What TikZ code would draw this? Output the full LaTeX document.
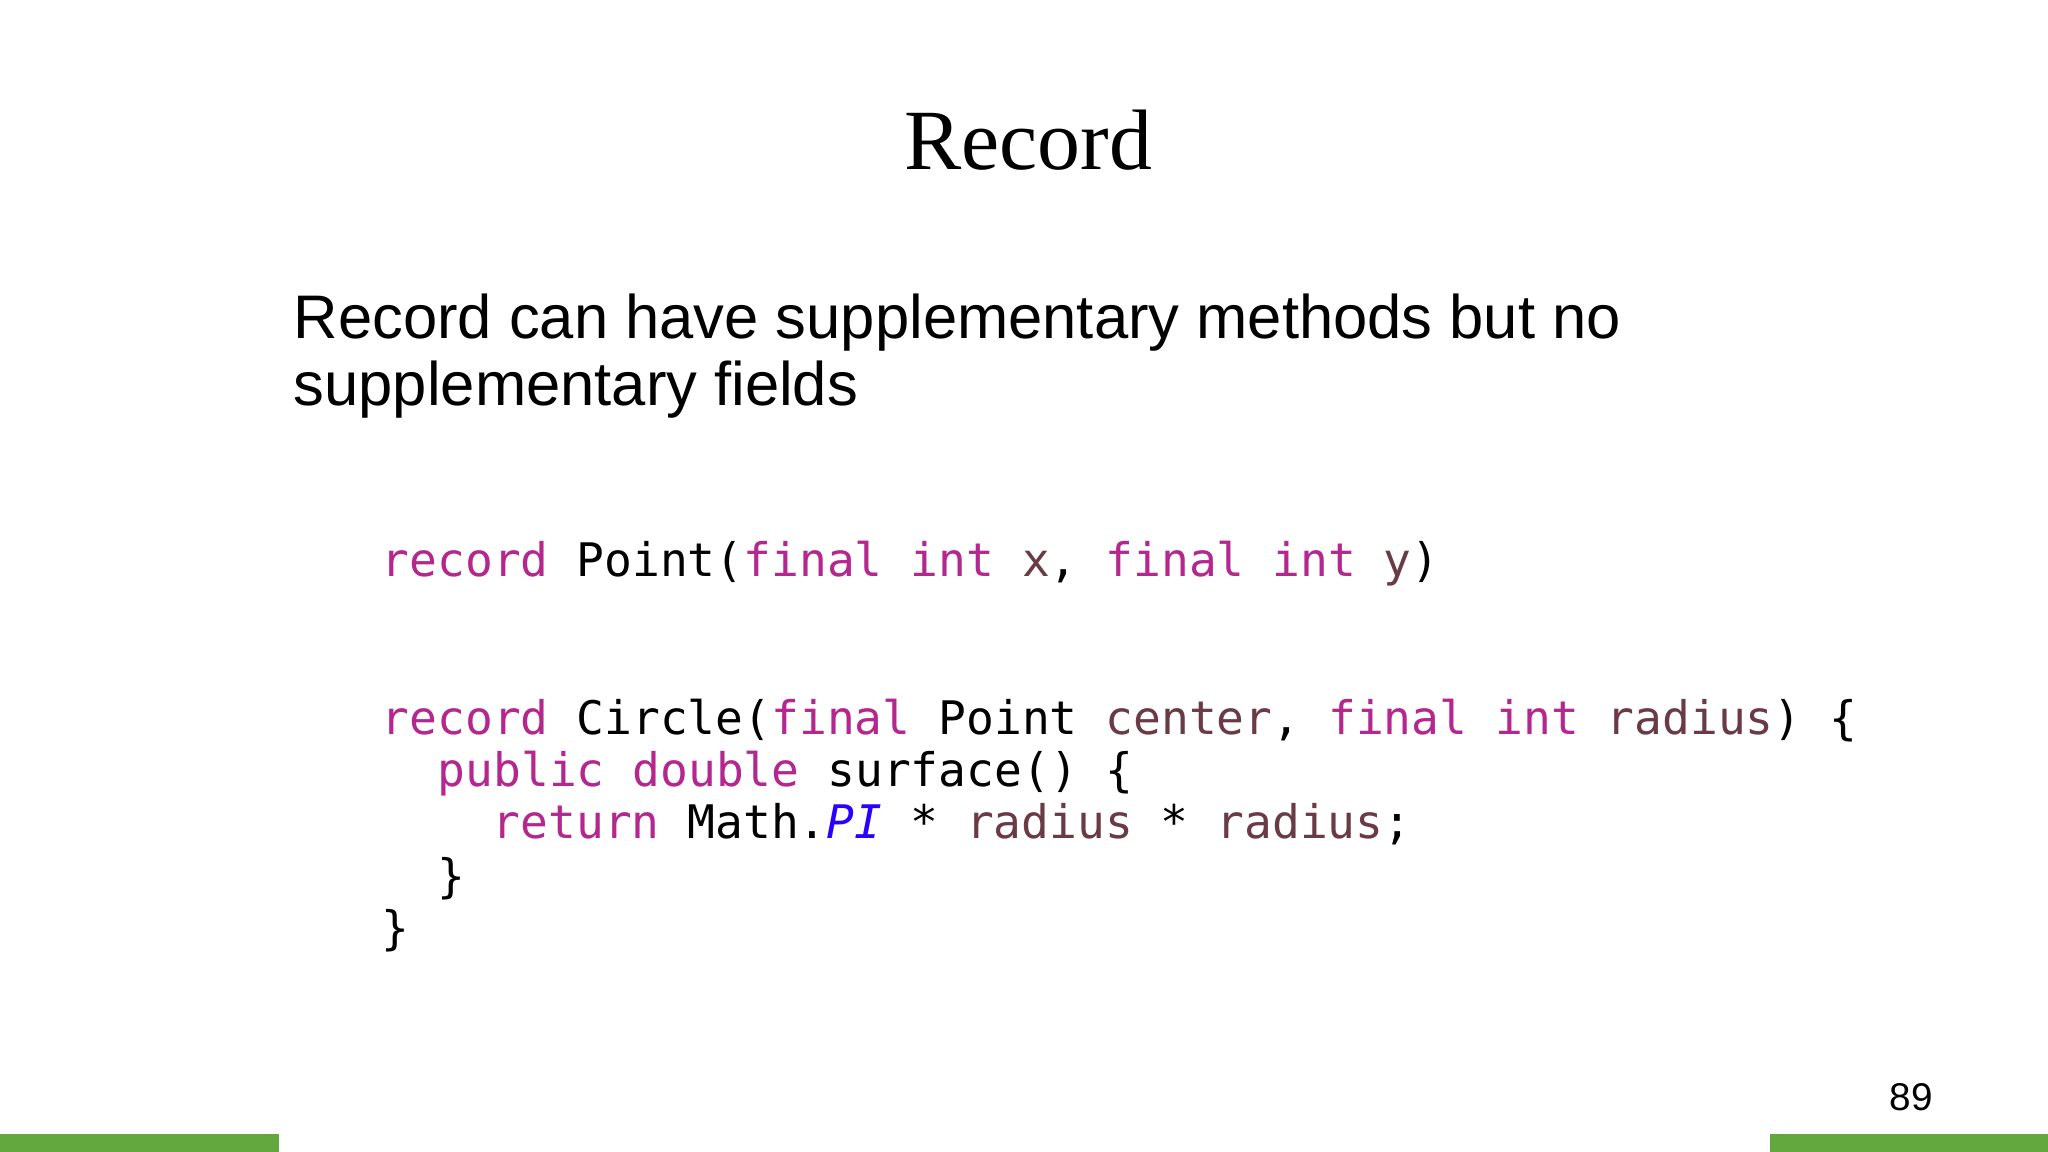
\documentclass[tikz,border=0pt]{standalone}
\usepackage{fontspec}
\setmainfont{Liberation Serif}
\setsansfont{Liberation Sans}
\setmonofont{DejaVu Sans Mono}
\definecolor{kw}{HTML}{B3278F}
\definecolor{idn}{HTML}{6A3B45}
\definecolor{cst}{HTML}{2A00FF}
\definecolor{bar}{HTML}{62A83E}
\newcommand{\K}[1]{\textcolor{kw}{#1}}
\newcommand{\V}[1]{\textcolor{idn}{#1}}
\tikzset{code/.style={anchor=base west,inner sep=0pt,font=\ttfamily\fontsize{13.15pt}{15pt}\selectfont}}
\begin{document}
\begin{tikzpicture}[x=0.01cm,y=-0.01cm]
\useasboundingbox (0,0) rectangle (2048,1152);
\fill[bar] (0,1134) rectangle (279,1152);
\fill[bar] (1770,1134) rectangle (2048,1152);
\node[anchor=base,inner sep=0pt,font=\fontsize{24.4pt}{28pt}\selectfont] (title) at (1028,170) {Record};
\node[anchor=south west,inner sep=0pt,align=left,font=\sffamily\fontsize{17.5pt}{20pt}\selectfont] (body) at (293,419) {Record can have supplementary methods but no\\[-1pt]supplementary fields};
\node[code] (l1) at (381,577) {\K{record} Point(\K{final} \K{int} \V{x}, \K{final} \K{int} \V{y})};
\node[code] (l2) at (381,734) {\K{record} Circle(\K{final} Point \V{center}, \K{final} \K{int} \V{radius}) \{};
\node[code] (l3) at (437,786) {\K{public} \K{double} surface() \{};
\node[code] (l4) at (492,838) {\K{return} Math.\textcolor{cst}{\itshape PI} * \V{radius} * \V{radius};};
\node[code] (l5) at (437,892) {\}};
\node[code] (l6) at (381,944) {\}};
\node[anchor=base,inner sep=0pt,font=\sffamily\fontsize{11pt}{13pt}\selectfont] (page) at (1911,1110) {89};
\end{tikzpicture}
\end{document}
